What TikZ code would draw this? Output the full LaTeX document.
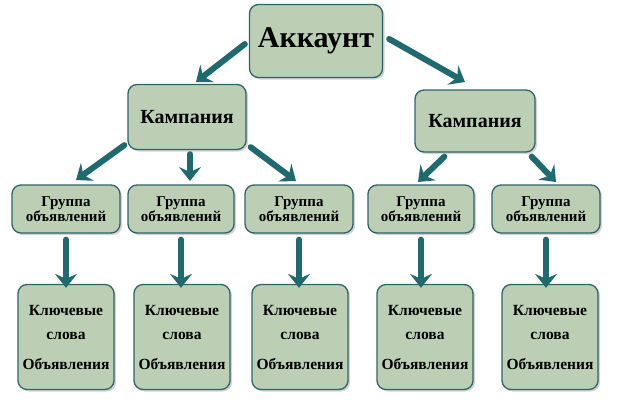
\documentclass[tikz,border=0pt]{standalone}
\usepackage{fontspec}
\setmainfont{Liberation Serif}[BoldFont={Liberation Serif Bold}]
\usetikzlibrary{arrows.meta,shadows}
\definecolor{boxfill}{HTML}{BCCFB4}
\definecolor{boxline}{HTML}{2E6468}
\definecolor{arr}{HTML}{1F6A6E}
\tikzset{
  box/.style={draw=boxline,line width=1.3pt,fill=boxfill,rounded corners=9pt,
    drop shadow={shadow xshift=2pt,shadow yshift=-2pt,opacity=0.35},
    font=\bfseries,align=center,inner sep=0pt},
  conn/.style={arr,line width=6pt,line cap=round,
    -{Stealth[length=14pt,width=22pt,inset=5pt]}},
}
\begin{document}
\begin{tikzpicture}[x=1pt,y=-1pt]
\useasboundingbox (0,0) rectangle (620,408);
\node[box,minimum width=133pt,minimum height=73pt,font=\bfseries\fontsize{30}{34}\selectfont] (acc) at (316,41) {Аккаунт};
\node[box,minimum width=118pt,minimum height=65pt,font=\bfseries\fontsize{20}{24}\selectfont] (c1) at (187,117) {Кампания};
\node[box,minimum width=120pt,minimum height=62pt,font=\bfseries\fontsize{20}{24}\selectfont] (c2) at (475,121) {Кампания};
\foreach \n/\x/\w in {g1/66/108,g2/181/106,g3/299/108,g4/421/106,g5/546/108}{
  \node[box,minimum width=\w pt,minimum height=48pt,font=\bfseries\fontsize{15}{15}\selectfont] (\n) at (\x,209) {Группа\\объявлений};
}
\foreach \n/\x in {b1/66,b2/182,b3/300,b4/425,b5/550}{
  \node[box,minimum width=96pt,minimum height=105pt,font=\bfseries\fontsize{15.5}{24}\selectfont] (\n) at (\x,337) {Ключевые\\слова\\[6pt]Объявления};
}
\draw[conn] (acc.west) ++(-4,3) -- (196,82);
\draw[conn] (acc.east) ++(6,-2) -- (465,82);
\draw[conn] (c1.south west) ++(-3,-5) -- (76,180);
\draw[conn] (c1.south) ++(3,4) -- (190,181);
\draw[conn] (c1.south east) ++(4,-3) -- (296,181);
\draw[conn] (c2.south west) ++(30,4) -- (418,182);
\draw[conn] (c2.south east) ++(-4,4) -- (556,182);
\foreach \g/\b in {g1/b1,g2/b2,g3/b3,g4/b4,g5/b5}{
  \draw[conn] (\g.south) ++(0,6) -- ([yshift=-4pt]\g.south |- \b.north);
}
\end{tikzpicture}
\end{document}
